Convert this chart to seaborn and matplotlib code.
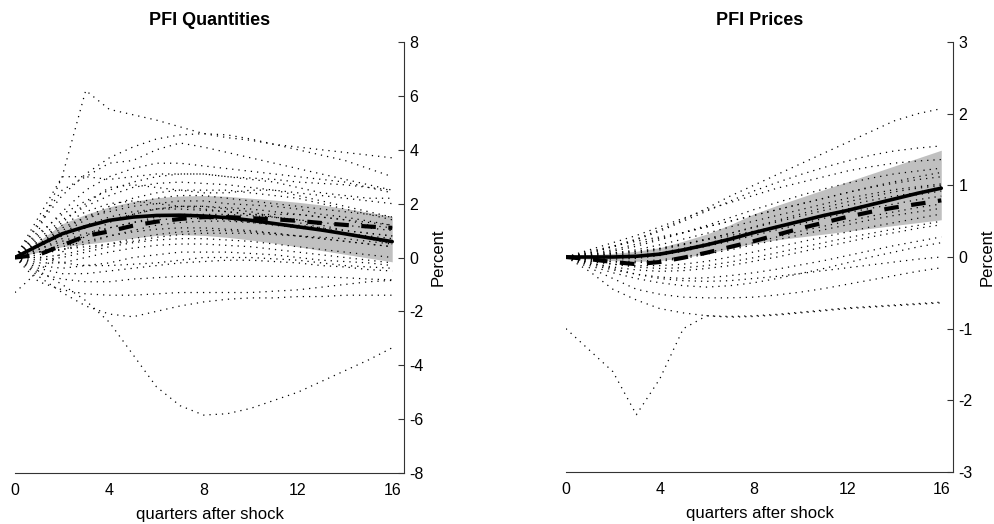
import numpy as np
import pandas as pd
import matplotlib
matplotlib.use("Agg")
import matplotlib.pyplot as plt
import seaborn as sns

quarters = list(range(17))

# ---------------- PFI Quantities ----------------
qty_median = [0, 0.45, 0.88, 1.15, 1.38, 1.50, 1.56, 1.57, 1.54, 1.48, 1.38, 1.26, 1.14, 1.02, 0.88, 0.73, 0.59]
qty_dashed = [0, 0.10, 0.45, 0.80, 0.97, 1.18, 1.33, 1.43, 1.50, 1.50, 1.46, 1.42, 1.36, 1.28, 1.21, 1.15, 1.10]
qty_upper = [0, 0.60, 1.25, 1.60, 1.88, 2.08, 2.22, 2.28, 2.30, 2.27, 2.20, 2.13, 2.05, 1.95, 1.82, 1.68, 1.52]
qty_lower = [0, 0.20, 0.40, 0.50, 0.60, 0.72, 0.82, 0.85, 0.82, 0.75, 0.65, 0.53, 0.40, 0.26, 0.12, -0.02, -0.16]

qty_draws = [
    [0, 1.0, 3.0, 6.2, 5.5, 5.3, 5.1, 4.85, 4.6, 4.45, 4.35, 4.2, 4.1, 4.0, 3.9, 3.8, 3.7],
    [0, -0.5, -1.0, -1.6, -2.4, -3.6, -4.8, -5.5, -5.85, -5.8, -5.6, -5.3, -5.0, -4.6, -4.2, -3.8, -3.35],
    [0, 1.2, 2.3, 3.1, 3.7, 4.1, 4.4, 4.55, 4.6, 4.55, 4.4, 4.2, 4.0, 3.8, 3.6, 3.3, 3.0],
    [0, 1.3, 2.5, 3.0, 3.5, 3.6, 4.0, 4.25, 4.1, 3.9, 3.7, 3.5, 3.3, 3.1, 2.9, 2.7, 2.5],
    [0, 0.8, 1.7, 2.5, 3.0, 3.3, 3.5, 3.5, 3.4, 3.3, 3.2, 3.1, 3.0, 2.9, 2.8, 2.6, 2.4],
    [0, 1.5, 3.0, 3.0, 2.9, 3.0, 3.1, 3.1, 3.1, 3.0, 2.95, 2.9, 2.8, 2.75, 2.7, 2.6, 2.5],
    [0, 0.9, 1.6, 2.1, 2.5, 2.8, 3.0, 3.1, 3.1, 3.0, 2.9, 2.8, 2.6, 2.4, 2.3, 2.2, 2.2],
    [0, 0.7, 1.4, 1.9, 2.3, 2.6, 2.75, 2.8, 2.75, 2.7, 2.6, 2.5, 2.3, 2.1, 1.9, 1.7, 1.5],
    [0, 0.6, 1.3, 2.0, 2.6, 2.7, 2.6, 2.5, 2.4, 2.4, 2.5, 2.5, 2.4, 2.3, 2.2, 2.1, 2.0],
    [0, 0.5, 1.0, 1.5, 1.9, 2.2, 2.4, 2.5, 2.5, 2.5, 2.4, 2.3, 2.2, 2.0, 1.8, 1.6, 1.4],
    [0, 0.4, 0.9, 1.4, 1.8, 2.0, 2.2, 2.3, 2.3, 2.2, 2.1, 2.0, 1.9, 1.8, 1.7, 1.6, 1.5],
    [0, 0.5, 1.1, 1.5, 1.7, 1.9, 2.0, 2.1, 2.1, 2.0, 1.95, 1.9, 1.8, 1.6, 1.5, 1.35, 1.2],
    [0, 0.3, 0.7, 1.1, 1.4, 1.6, 1.8, 1.9, 1.9, 1.85, 1.8, 1.7, 1.6, 1.5, 1.4, 1.3, 1.2],
    [0, 0.4, 0.8, 1.2, 1.5, 1.7, 1.8, 1.8, 1.75, 1.7, 1.6, 1.5, 1.4, 1.2, 1.0, 0.9, 0.8],
    [0, 0.2, 0.5, 0.8, 1.1, 1.3, 1.5, 1.6, 1.6, 1.6, 1.55, 1.5, 1.4, 1.3, 1.2, 1.1, 1.0],
    [0, 0.3, 0.6, 0.9, 1.1, 1.3, 1.4, 1.45, 1.45, 1.4, 1.3, 1.2, 1.1, 1.0, 0.9, 0.8, 0.7],
    [0, 0.1, 0.3, 0.5, 0.8, 1.0, 1.2, 1.3, 1.35, 1.35, 1.3, 1.25, 1.2, 1.1, 1.0, 0.9, 0.8],
    [0, 0.2, 0.4, 0.6, 0.8, 0.95, 1.05, 1.1, 1.1, 1.05, 1.0, 0.9, 0.8, 0.7, 0.6, 0.5, 0.4],
    [0, 0.0, 0.1, 0.3, 0.5, 0.7, 0.85, 0.95, 1.0, 1.0, 0.95, 0.9, 0.8, 0.7, 0.6, 0.5, 0.4],
    [0, -0.1, 0.0, 0.2, 0.4, 0.55, 0.65, 0.7, 0.7, 0.65, 0.6, 0.5, 0.4, 0.3, 0.2, 0.1, 0.0],
    [0, -0.2, -0.2, 0.0, 0.2, 0.35, 0.45, 0.5, 0.5, 0.45, 0.4, 0.3, 0.2, 0.1, 0.0, -0.1, -0.2],
    [0, -0.3, -0.4, -0.3, -0.2, 0.0, 0.1, 0.2, 0.2, 0.2, 0.15, 0.1, 0.0, -0.1, -0.15, -0.2, -0.3],
    [0, -0.4, -0.6, -0.6, -0.5, -0.4, -0.3, -0.2, -0.15, -0.1, -0.1, -0.15, -0.2, -0.3, -0.35, -0.45, -0.5],
    [0, -0.6, -0.8, -0.9, -0.9, -0.8, -0.75, -0.7, -0.7, -0.7, -0.7, -0.7, -0.7, -0.72, -0.75, -0.8, -0.83],
    [0, -0.9, -1.2, -1.35, -1.4, -1.4, -1.35, -1.3, -1.3, -1.3, -1.3, -1.25, -1.2, -1.1, -1.0, -0.9, -0.85],
    [0, -0.7, -1.3, -1.8, -2.1, -2.2, -2.0, -1.8, -1.65, -1.55, -1.5, -1.5, -1.45, -1.45, -1.4, -1.4, -1.4],
    [-1.3, -0.5, 0.2, 0.8, 1.3, 1.6, 1.8, 1.9, 1.9, 1.8, 1.7, 1.5, 1.3, 1.1, 0.9, 0.7, 0.5],
    [0, 0.6, 1.2, 1.7, 2.0, 2.1, 2.0, 1.9, 1.8, 1.7, 1.6, 1.6, 1.6, 1.5, 1.4, 1.2, 1.1],
    [0, 0.0, -0.2, -0.3, -0.3, -0.25, -0.2, -0.1, 0.0, 0.0, 0.0, -0.05, -0.1, -0.2, -0.3, -0.35, -0.4],
    [0, 0.2, 0.3, 0.4, 0.5, 0.6, 0.75, 0.85, 0.9, 0.9, 0.9, 0.85, 0.8, 0.75, 0.7, 0.6, 0.5],
]

# ---------------- PFI Prices ----------------
prc_median = [0, 0.0, 0.0, 0.01, 0.04, 0.10, 0.17, 0.25, 0.34, 0.42, 0.50, 0.58, 0.65, 0.73, 0.81, 0.89, 0.96]
prc_dashed = [0, -0.03, -0.07, -0.10, -0.07, -0.01, 0.06, 0.14, 0.22, 0.31, 0.40, 0.48, 0.56, 0.63, 0.69, 0.74, 0.79]
prc_upper = [0.02, 0.03, 0.05, 0.08, 0.13, 0.22, 0.32, 0.45, 0.60, 0.72, 0.83, 0.94, 1.05, 1.16, 1.27, 1.38, 1.49]
prc_lower = [-0.02, -0.03, -0.05, -0.06, -0.05, -0.01, 0.05, 0.12, 0.19, 0.24, 0.28, 0.32, 0.36, 0.40, 0.44, 0.48, 0.52]

prc_draws = [
    [-1.0, -1.3, -1.6, -2.2, -1.7, -1.0, -0.82, -0.83, -0.82, -0.8, -0.77, -0.74, -0.71, -0.69, -0.67, -0.65, -0.63],
    [0, -0.2, -0.45, -0.6, -0.72, -0.78, -0.82, -0.84, -0.83, -0.81, -0.78, -0.75, -0.72, -0.7, -0.68, -0.66, -0.64],
    [0, -0.15, -0.3, -0.45, -0.52, -0.56, -0.57, -0.57, -0.56, -0.53, -0.49, -0.44, -0.38, -0.32, -0.26, -0.2, -0.15],
    [0, -0.08, -0.16, -0.24, -0.3, -0.33, -0.34, -0.33, -0.3, -0.27, -0.23, -0.19, -0.15, -0.11, -0.07, -0.03, 0.0],
    [0, 0.05, 0.15, 0.25, 0.38, 0.52, 0.68, 0.85, 1.0, 1.15, 1.3, 1.45, 1.6, 1.75, 1.9, 2.0, 2.07],
    [0, 0.06, 0.14, 0.24, 0.36, 0.5, 0.64, 0.78, 0.92, 1.04, 1.15, 1.25, 1.34, 1.42, 1.48, 1.52, 1.55],
    [0, 0.1, 0.2, 0.3, 0.42, 0.54, 0.66, 0.76, 0.86, 0.96, 1.04, 1.12, 1.2, 1.26, 1.31, 1.34, 1.36],
    [0, 0.03, 0.08, 0.15, 0.24, 0.34, 0.44, 0.55, 0.66, 0.76, 0.86, 0.95, 1.03, 1.1, 1.16, 1.2, 1.24],
    [0, 0.05, 0.1, 0.18, 0.26, 0.34, 0.42, 0.5, 0.58, 0.66, 0.74, 0.82, 0.9, 0.97, 1.03, 1.08, 1.12],
    [0, 0.02, 0.05, 0.1, 0.17, 0.25, 0.33, 0.42, 0.5, 0.58, 0.66, 0.74, 0.82, 0.88, 0.94, 0.98, 1.02],
    [0, 0.0, 0.02, 0.05, 0.1, 0.17, 0.25, 0.33, 0.41, 0.49, 0.57, 0.65, 0.72, 0.79, 0.85, 0.9, 0.95],
    [0, -0.02, -0.03, -0.02, 0.02, 0.08, 0.15, 0.22, 0.3, 0.38, 0.46, 0.54, 0.62, 0.68, 0.74, 0.8, 0.85],
    [0, -0.03, -0.06, -0.06, -0.04, 0.0, 0.06, 0.13, 0.2, 0.28, 0.36, 0.43, 0.5, 0.57, 0.63, 0.69, 0.74],
    [0, -0.05, -0.1, -0.12, -0.12, -0.1, -0.06, 0.0, 0.07, 0.14, 0.21, 0.28, 0.35, 0.42, 0.48, 0.54, 0.6],
    [0, -0.08, -0.14, -0.18, -0.2, -0.19, -0.16, -0.12, -0.06, 0.0, 0.07, 0.14, 0.21, 0.28, 0.34, 0.4, 0.45],
    [0, -0.1, -0.18, -0.24, -0.28, -0.3, -0.29, -0.26, -0.22, -0.17, -0.11, -0.05, 0.02, 0.09, 0.16, 0.22, 0.28],
    [0, -0.12, -0.22, -0.3, -0.36, -0.4, -0.42, -0.4, -0.36, -0.3, -0.23, -0.16, -0.08, 0.0, 0.07, 0.14, 0.2],
    [0, 0.08, 0.15, 0.22, 0.28, 0.34, 0.42, 0.5, 0.58, 0.66, 0.74, 0.82, 0.9, 0.98, 1.05, 1.12, 1.18],
    [0, 0.04, 0.06, 0.08, 0.12, 0.18, 0.25, 0.33, 0.42, 0.51, 0.6, 0.69, 0.77, 0.84, 0.91, 0.96, 1.0],
    [0, 0.0, 0.0, 0.02, 0.06, 0.12, 0.19, 0.27, 0.35, 0.43, 0.51, 0.59, 0.67, 0.74, 0.81, 0.87, 0.92],
    [0, -0.04, -0.07, -0.08, -0.06, -0.02, 0.04, 0.1, 0.17, 0.24, 0.31, 0.38, 0.45, 0.52, 0.58, 0.63, 0.68],
    [0, -0.06, -0.1, -0.14, -0.16, -0.15, -0.12, -0.07, -0.01, 0.06, 0.13, 0.2, 0.27, 0.33, 0.39, 0.44, 0.5],
    [0, 0.02, 0.04, 0.07, 0.12, 0.18, 0.24, 0.3, 0.36, 0.42, 0.5, 0.58, 0.66, 0.74, 0.82, 0.9, 0.98],
]

titles = ["PFI Quantities", "PFI Prices"]
y_limits = [(-8, 8), (-3, 3)]
y_ticks = [[-8, -6, -4, -2, 0, 2, 4, 6, 8], [-3, -2, -1, 0, 1, 2, 3]]
x_ticks = [0, 4, 8, 12, 16]
x_label = "quarters after shock"
y_label = "Percent"

sns.set_style("white")
plt.rcParams["font.family"] = ["Liberation Sans", "DejaVu Sans"]
plt.rcParams["axes.unicode_minus"] = False
plt.rcParams["text.color"] = "black"
plt.rcParams["axes.labelcolor"] = "black"
plt.rcParams["xtick.color"] = "black"
plt.rcParams["ytick.color"] = "black"

fig = plt.figure(figsize=(9.95, 5.24), dpi=100)
ax_left = fig.add_axes([15 / 995, 51 / 524, 389 / 995, 431 / 524])
ax_right = fig.add_axes([566 / 995, 52 / 524, 387 / 995, 430 / 524])

panels = [
    (ax_left, qty_draws, qty_median, qty_dashed, qty_lower, qty_upper),
    (ax_right, prc_draws, prc_median, prc_dashed, prc_lower, prc_upper),
]

for i, (ax, draws, med, dash, lo, hi) in enumerate(panels):
    ax.fill_between(quarters, lo, hi, color="#c0c0c0", lw=0, zorder=1)

    long = pd.DataFrame(
        [(k, q, v) for k, d in enumerate(draws) for q, v in zip(quarters, d)],
        columns=["draw", "quarter", "value"],
    )
    sns.lineplot(data=long, x="quarter", y="value", units="draw", estimator=None,
                 color="black", lw=0.9, linestyle=(0, (1, 4)), ax=ax, zorder=2)

    sns.lineplot(x=quarters, y=med, color="black", lw=2.6, ax=ax, zorder=4)
    sns.lineplot(x=quarters, y=dash, color="black", lw=3.0, ax=ax, zorder=3,
                 linestyle=(0, (3.5, 3.0)))

    ax.set_xlim(0, 16.5)
    ax.set_ylim(*y_limits[i])
    ax.set_xticks(x_ticks)
    ax.set_yticks(y_ticks[i])
    ax.yaxis.tick_right()
    ax.yaxis.set_label_position("right")
    ax.tick_params(axis="both", direction="in", length=4, width=0.8, color="#333333",
                   labelsize=11.5, pad=7, labelcolor="black")
    ax.tick_params(axis="y", pad=4)
    for s in ["top", "left"]:
        ax.spines[s].set_visible(False)
    for s in ["bottom", "right"]:
        ax.spines[s].set_color("#333333")
        ax.spines[s].set_linewidth(0.8)
    ax.set_title(titles[i], fontsize=13, fontweight="bold", pad=12, color="black")
    ax.set_xlabel(x_label, fontsize=12, labelpad=7, color="black")
    ax.set_ylabel(y_label, fontsize=12, labelpad=5, color="black")
    ax.grid(False)

fig.savefig("out.png", dpi=100)
